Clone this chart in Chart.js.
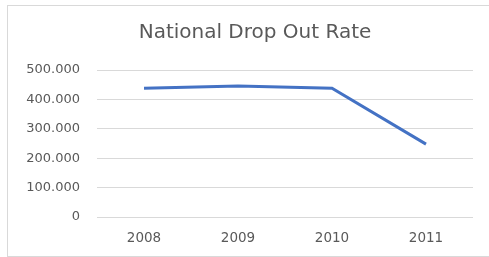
<!DOCTYPE html>
<html>
<head>
<meta charset="utf-8">
<script src="https://cdn.jsdelivr.net/npm/chart.js@4/dist/chart.umd.min.js"></script>
<style>
  html, body { margin: 0; padding: 0; background: #ffffff; overflow: hidden; }
  #box { position: absolute; left: 7px; top: 5px; width: 482px; height: 250px; border: 1px solid #d9d9d9; background: #fff; }
  canvas { display: block; }
</style>
</head>
<body>
<div id="box"><canvas id="c" width="482" height="250"></canvas></div>
<script>
const years = ['2008', '2009', '2010', '2011'];
const dropOuts = [438000, 446000, 438000, 248000];
const yTicks = [0, 100000, 200000, 300000, 400000, 500000];
const chartTitle = 'National Drop Out Rate';

const fmt = v => Number(v).toLocaleString('de-DE');

const titleShift = {
  id: 'titleShift',
  afterLayout(chart) {
    if (chart.titleBlock) { chart.titleBlock.left += 29; }
  }
};

new Chart(document.getElementById('c'), {
  type: 'line',
  data: {
    labels: years,
    datasets: [{
      label: 'Drop Out',
      data: dropOuts,
      borderColor: '#4472c4',
      backgroundColor: '#4472c4',
      borderWidth: 3,
      pointRadius: 0,
      tension: 0,
      fill: false
    }]
  },
  plugins: [titleShift],
  options: {
    responsive: false,
    animation: false,
    devicePixelRatio: 1,
    layout: { padding: { left: 0, right: 17, top: 0, bottom: 0 } },
    plugins: {
      legend: { display: false },
      tooltip: { enabled: false },
      title: {
        display: true,
        text: chartTitle,
        color: '#595959',
        font: { family: 'DejaVu Sans', size: 20, weight: 'normal', lineHeight: 1.2 },
        padding: { top: 15, bottom: 25 }
      }
    },
    scales: {
      x: {
        offset: true,
        grid: { display: false, drawTicks: false },
        border: { display: false },
        ticks: { color: '#595959', font: { family: 'DejaVu Sans', size: 13.5 }, padding: 13, maxRotation: 0 },
        afterFit: s => { s.height = 39; }
      },
      y: {
        min: 0,
        max: 500000,
        afterBuildTicks: s => { s.ticks = yTicks.map(v => ({ value: v })); },
        grid: { color: '#d9d9d9', lineWidth: 1, drawTicks: false },
        border: { display: false },
        ticks: { color: '#595959', font: { family: 'DejaVu Sans', size: 13 }, padding: 17, callback: v => fmt(v) },
        afterFit: s => { s.width = 89; }
      }
    }
  }
});
</script>
</body>
</html>
